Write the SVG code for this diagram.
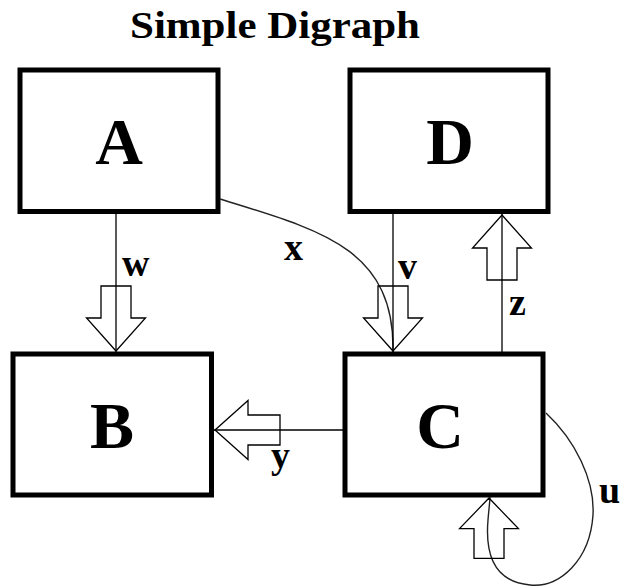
<svg xmlns="http://www.w3.org/2000/svg" width="621" height="588" viewBox="0 0 621 588">
<style>
.box{fill:#fff;stroke:#000;stroke-width:5}
.nl{font-family:"Liberation Serif","DejaVu Serif",serif;font-weight:bold;font-size:66px;fill:#000;text-anchor:middle}
.el{font-family:"Liberation Serif","DejaVu Serif",serif;font-weight:bold;font-size:38px;fill:#000}
.ln{fill:none;stroke:#000;stroke-width:1.3}
.cv{fill:none;stroke:#222;stroke-width:1.4}
.ha{fill:none;stroke:#000;stroke-width:1.3;stroke-linejoin:miter}
</style>
<defs>
<path id="ha" d="M0,0 L-29.5,-33 L-15,-33 L-15,-65 L15,-65 L15,-33 L29.5,-33 Z"/>
</defs>
<rect width="621" height="588" fill="#fff"/>
<text x="275" y="38" font-family="'Liberation Serif','DejaVu Serif',serif" font-weight="bold" font-size="38" text-anchor="middle" textLength="290" lengthAdjust="spacingAndGlyphs">Simple Digraph</text>
<g id="A"><rect class="box" x="20" y="70" width="198" height="141.5"/><text class="nl" x="119" y="164">A</text></g>
<g id="D"><rect class="box" x="350" y="70" width="198" height="141.5"/><text class="nl" x="450" y="164">D</text></g>
<g id="B"><rect class="box" x="13" y="354" width="198.5" height="141"/><text class="nl" x="112" y="448">B</text></g>
<g id="C"><rect class="box" x="345" y="354" width="198" height="141"/><text class="nl" x="440" y="448">C</text></g>
<g id="connectors">
<g id="edge-w"><line class="ln" x1="116" y1="213" x2="116" y2="352"/><use href="#ha" class="ha" transform="translate(116,351)"/><text class="el" x="122" y="276">w</text></g>
<g id="edge-x"><path class="cv" d="M220,199 C320,230 395,248 393,352"/><text class="el" x="284" y="260">x</text></g>
<g id="edge-v"><line class="ln" x1="393" y1="213" x2="393" y2="352"/><use href="#ha" class="ha" transform="translate(393,351)"/><text class="el" x="398" y="279">v</text></g>
<g id="edge-z"><line class="ln" x1="502" y1="352" x2="502" y2="214"/><use href="#ha" class="ha" transform="translate(502,215) rotate(180)"/><text class="el" x="509" y="315">z</text></g>
<g id="edge-y"><line class="ln" x1="343" y1="430" x2="214" y2="430"/><use href="#ha" class="ha" transform="translate(215,430) rotate(90)"/><text class="el" x="271" y="468">y</text></g>
<g id="edge-u"><path class="cv" d="M546,413 C575,440 595,480 593,515 C590,560 560,588 530,585 C495,582 485,555 488,520 C489,508 490,500 490,497"/><use href="#ha" class="ha" transform="translate(489,498) rotate(180) scale(1,0.93)"/><text class="el" x="599" y="503">u</text></g>
</g>
</svg>
